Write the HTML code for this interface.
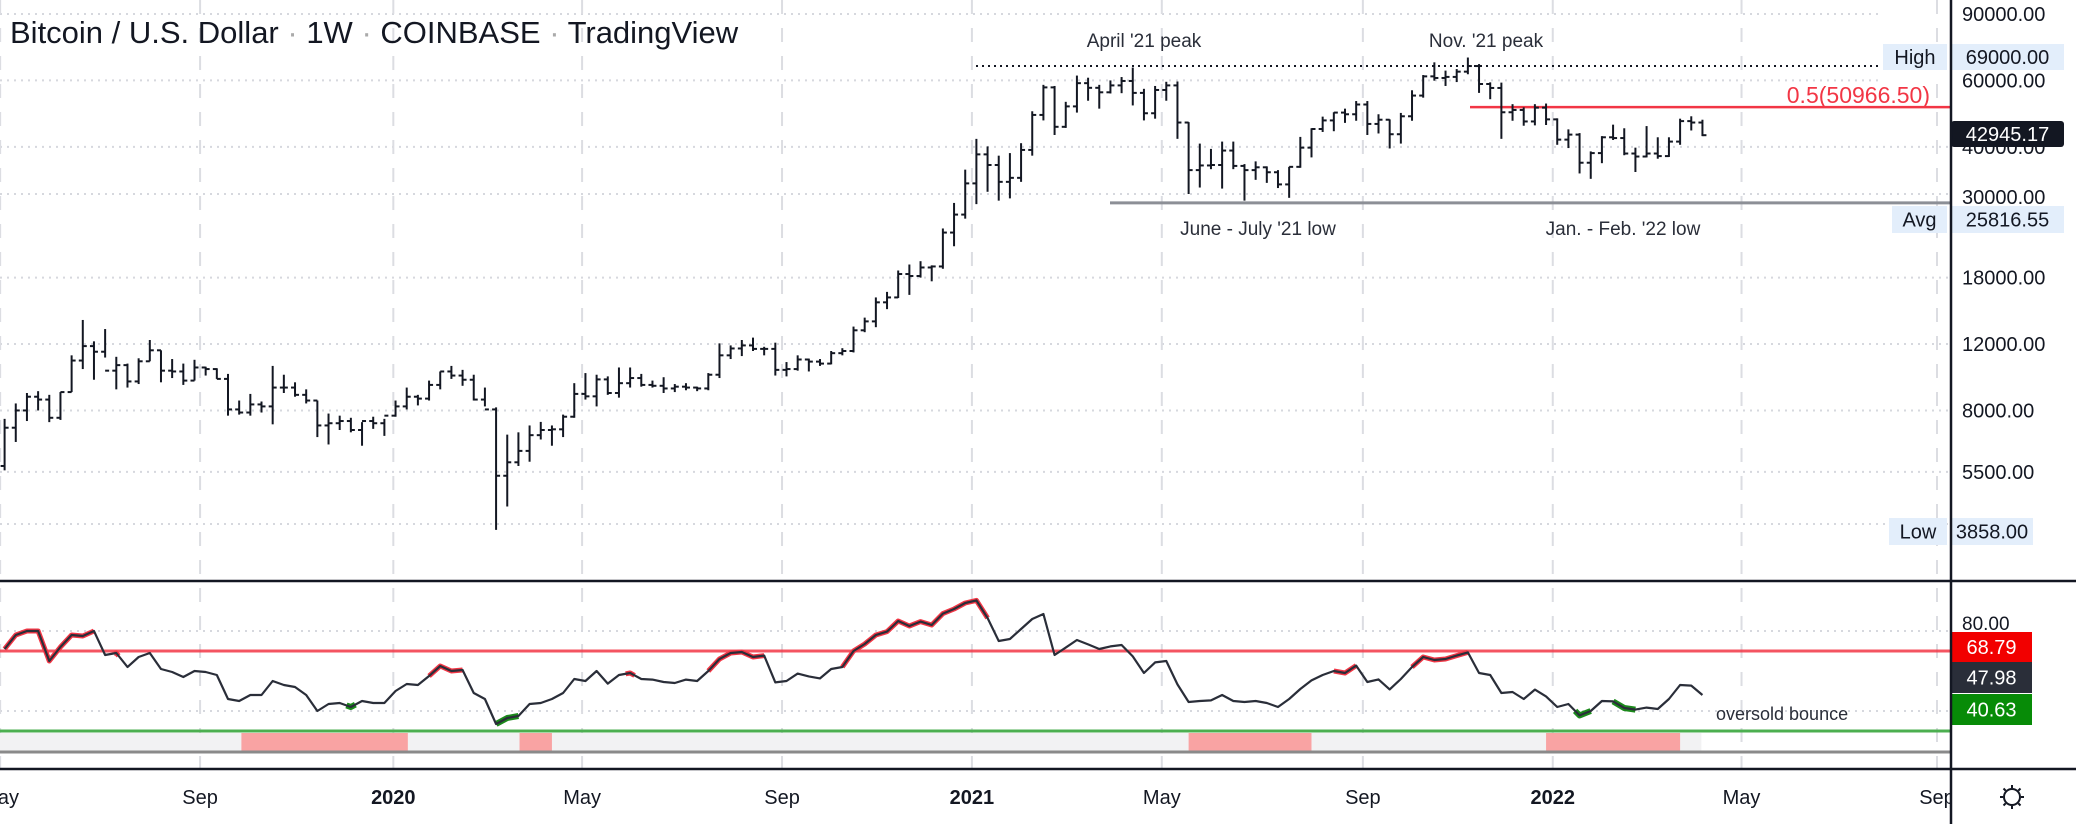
<!DOCTYPE html>
<html><head><meta charset="utf-8"><style>
html,body{margin:0;padding:0;background:#fff;}
svg{display:block;font-family:"Liberation Sans",sans-serif;}
</style></head><body>
<svg id="chart" width="2076" height="824" viewBox="0 0 2076 824" xmlns="http://www.w3.org/2000/svg">
<defs><clipPath id="pane"><rect x="0" y="0" width="1950" height="824"/></clipPath></defs>
<g id="grid" clip-path="url(#pane)"></g>
<g id="bands"></g>
<g id="annot"></g>
<g id="bars" clip-path="url(#pane)"></g>
<g id="rsi" clip-path="url(#pane)"></g>
<g id="axes"></g>
</svg>
<script>
const opens=[5700,7200,8000,8700,8550,7650,8950,10850,11850,11450,
10200,10550,9550,10800,11550,10200,10150,9600,10400,10300,
9700,8050,7900,8300,8200,9200,9200,8800,8500,7300,
7400,7500,7100,7500,7400,7750,8200,8700,8600,9350,
10150,9900,9650,8550,8050,5370,5830,6250,6880,7100,
7130,7700,8850,8720,9670,8900,9450,9750,9350,9300,
9150,9250,9200,9150,9950,11200,11680,11900,11650,11650,
10250,10300,10920,10780,10650,11350,11500,13050,13780,15480,
15950,18400,18180,19150,19270,23700,26450,32000,38200,35800,
32300,33100,39250,48600,57500,45200,51200,59000,57350,55800,
58200,59800,55600,49100,56600,58200,46400,34700,35700,35800,
39100,35600,34700,35300,34250,31800,35400,39800,44600,47000,
49300,48800,51800,46000,47200,43200,48200,54700,61500,60900,
61300,63300,65500,58700,57300,49400,50100,46700,50800,47300,
41800,43100,36300,38500,42400,42200,38400,37700,38400,37800,
41300,46800,46400];
const highs=[7600,8350,8900,9000,8800,8950,11200,13900,12200,13150,
11100,10650,11000,12300,11550,10950,10650,10900,10450,10350,
10000,8500,8850,8450,10500,9950,9500,9100,8500,7850,
7750,7650,7450,7700,7600,8500,9200,8800,9600,10150,
10500,10250,9950,9200,8150,6900,7000,7300,7460,7300,
7800,9450,10050,9950,9850,10400,10400,10000,9600,9800,
9400,9450,9250,10050,12050,11900,12300,12480,11800,12100,
10750,11200,10980,10950,11500,11700,13350,14100,15950,16500,
18800,19500,19900,19400,24300,28400,34800,42000,40100,37900,
38500,40900,49700,58400,58000,52650,61800,61000,58400,60000,
61250,64900,57000,58000,59500,59600,46500,40800,39500,41300,
41300,36000,36600,35500,34700,35400,42500,44800,48100,49400,
50500,52900,52900,48800,47300,49200,56500,62000,67000,63700,
64300,69000,66300,59300,59200,51900,50900,51900,52100,47600,
44500,43500,38900,42700,45800,44800,39800,45400,42400,42400,
47500,48200,47200];
const lows=[5550,6600,7500,8000,7450,7550,8950,10300,9650,11050,
9100,9200,9400,10800,9500,9750,9350,9600,9900,9700,
7750,7800,7750,7900,7350,8900,8700,8350,6800,6500,
7100,7000,6450,7150,6850,7700,8050,8250,8500,9100,
9700,9300,8500,8200,3858,4450,5700,5850,6700,6450,
6800,7650,8550,8200,8800,8650,9200,9250,9200,8900,
8950,9050,9000,9050,9750,10950,11150,11500,11200,9900,
9850,10200,10150,10500,10600,11200,11400,12900,13300,14850,
15900,16200,18000,17600,19000,21800,25800,28200,30400,28800,
29200,32300,37900,47000,43000,44900,49300,53000,50500,55400,
55500,51500,47000,47500,53000,42000,30000,31200,34900,31000,
34900,28800,32700,32100,31100,29300,35200,37500,43800,44000,
46300,46900,43000,43400,39600,40800,46900,54000,59900,58000,
59400,62300,55600,53500,42000,46900,45500,45600,45700,40500,
39700,34000,32900,36200,41700,38000,34300,37500,37200,37600,
40500,44200,42700];
const closes=[7200,8000,8700,8550,7650,8950,10850,11850,11450,10200,
10550,9550,10800,11550,10200,10150,9600,10400,10300,9700,
8050,7900,8300,8200,9200,9200,8800,8500,7300,7400,
7500,7100,7500,7400,7750,8200,8700,8600,9350,10150,
9900,9650,8550,8050,5370,5830,6250,6880,7100,7130,
7700,8850,8720,9670,8900,9450,9750,9350,9300,9150,
9250,9200,9150,9950,11200,11680,11900,11650,11650,10250,
10300,10920,10780,10650,11350,11500,13050,13780,15480,15950,
18400,18180,19150,19270,23700,26450,32000,38200,35800,32300,
33100,39250,48600,57500,45200,51200,59000,57350,55800,58200,
59800,55600,49100,56600,58200,46400,34700,35700,35800,39100,
35600,34700,35300,34250,31800,35400,39800,44600,47000,49300,
48800,51800,46000,47200,43200,48200,54700,61500,60900,61300,
63300,65500,58700,57300,49400,50100,46700,50800,47300,41800,
43100,36300,38500,42400,42200,38400,37700,38400,37800,41300,
46800,46400,42945];
const rsiValues=[71,78,80,80,65,72,78,77.5,80,68,
69,62,67,69,61,59.5,57,60,59.5,58,
46,45,48,48,55,53,52,48,40,43.5,
44,42,45,44,44,50,53.5,53,57.5,62.5,
60,60.5,49,46,33.5,36.5,37.5,43.5,44,46,
49,56,55,60,53.7,58,59,56,55.7,54.5,
54,55.7,55,60,66,69,69.5,67,67.7,54.3,
55,58.7,57.3,56.3,61,62,70,73.5,78,79.7,
85,82.5,84.7,83,88.7,91,94,95.3,86.5,75,
76,81,86,88.5,68,71.7,75.5,73.3,71,72.3,
73,67.3,59,64.3,65,53.3,44.5,45,45.3,48,
45,44.5,45,44,42,46,51,55.3,58,60,
59,62.7,54.5,55.8,50.8,56,62,67,65.5,66,
67.7,69.3,59,58,49,49.5,46,50.7,47.3,42,
43.5,37.8,40,45,44.8,41.5,40.7,41.7,41,46,
53,52.7,48];
const overboughtRanges=[[0,8],[9.8,10.2],[38,41],[55.6,56.4],[63,68],[75,88],[119,121],[126,131]];
const oversoldRanges=[[30.6,31.4],[44,46],[140.6,142],[144,146]];
const bandZones=[[21.2,36.1],[46.1,49],[106,117],[138,150]];
const bandEnd=151.9;
const priceTicks=[90000,60000,40000,30000,18000,12000,8000,5500,4000];
const priceTickLabels=["90000.00","60000.00","40000.00","30000.00","18000.00","12000.00","8000.00","5500.00",""];
const timeTickIdx=[-0.4,17.5,34.8,51.7,69.6,86.6,103.6,121.6,138.6,155.5,173];
const timeTickLabels=["May","Sep","2020","May","Sep","2021","May","Sep","2022","May","Sep"];
const rsiTicks=[80,40];
const highPrice=69000, lowPrice=3858, avgPrice=25816.55, lastPrice=42945.17;
const fibLevel=50966.50, highLinePrice=65500, avgLinePrice=28400;
const rsiLast=47.98, rsiUpper=68.79, rsiLower=40.63;

const NS="http://www.w3.org/2000/svg";
const xOf=i=>4.6+11.17*i;
const yP=p=>14+163.8*(Math.log(90000)-Math.log(p));
const yR=v=>651+(70-v)*2;
function mk(tag,attrs,parent,text){const e=document.createElementNS(NS,tag);for(const k in attrs)e.setAttribute(k,attrs[k]);if(text!==undefined)e.textContent=text;parent.appendChild(e);return e;}
const G=id=>document.getElementById(id);

const grid=G('grid');
priceTicks.forEach(p=>{const l=mk('line',{x1:0,x2:(p>50000?1880:1950),y1:yP(p),y2:yP(p),stroke:'#d6d8de','stroke-width':2,'stroke-dasharray':'2 5'},grid);

});
rsiTicks.forEach(v=>{const l=mk('line',{x1:0,x2:1950,y1:yR(v),y2:yR(v),stroke:'#d6d8de','stroke-width':2,'stroke-dasharray':'2 5'},grid);

});
timeTickIdx.forEach(t=>{const x=xOf(t);const l=mk('line',{x1:x,x2:x,y1:0,y2:768,stroke:'#dcdde2','stroke-width':2,'stroke-dasharray':'14 14'},grid);

});

const bands=G('bands');
let b=mk('rect',{x:0,y:733,width:xOf(bandEnd),height:19,fill:'#f2f2f3'},bands);


bandZones.forEach(z=>{const r=mk('rect',{x:xOf(z[0]),y:733,width:xOf(z[1])-xOf(z[0]),height:19,fill:'#f9a3a3'},bands);

});
b=mk('line',{x1:0,x2:1950,y1:752,y2:752,stroke:'#8a8a8a','stroke-width':3},bands);



const an=G('annot');
let e=mk('line',{x1:976,x2:1880,y1:yP(highLinePrice),y2:yP(highLinePrice),stroke:'#131722','stroke-width':2,'stroke-dasharray':'2 4'},an);


e=mk('line',{x1:1470,x2:1950,y1:yP(fibLevel),y2:yP(fibLevel),stroke:'#f23645','stroke-width':2.5},an);


e=mk('text',{x:1930,y:103,'font-size':23,fill:'#f23645','text-anchor':'end'},an,'0.5(50966.50)');


e=mk('line',{x1:1110,x2:1950,y1:yP(avgLinePrice),y2:yP(avgLinePrice),stroke:'#8c8f96','stroke-width':3},an);


[["April '21 peak",1144,47,'april-peak-label'],["Nov. '21 peak",1486,47,'nov-peak-label'],["June - July '21 low",1258,235,'june-july-low-label'],["Jan. - Feb. '22 low",1623,235,'jan-feb-low-label']].forEach(a=>{
const t=mk('text',{x:a[1],y:a[2],'font-size':19,fill:'#2a2e39','text-anchor':'middle'},an,a[0]);

});
e=mk('text',{x:1716,y:720,'font-size':18,fill:'#2a2e39'},an,'oversold bounce');



const bars=G('bars');
closes.forEach((c,i)=>{const x=xOf(i);const g=mk('g',{stroke:'#131722','stroke-width':2},bars);


mk('line',{x1:x,x2:x,y1:yP(highs[i]),y2:yP(lows[i])},g);
mk('line',{x1:x-4,x2:x,y1:yP(opens[i]),y2:yP(opens[i])},g);
mk('line',{x1:x,x2:x+4,y1:yP(c),y2:yP(c)},g);});

const rs=G('rsi');
e=mk('line',{x1:0,x2:1950,y1:yR(70),y2:yR(70),stroke:'#f23645','stroke-width':3,'stroke-opacity':0.85},rs);


e=mk('line',{x1:0,x2:1950,y1:yR(30),y2:yR(30),stroke:'#4caf50','stroke-width':3},rs);


function rsiAt(t){const a=Math.floor(t),f=t-a;if(a>=rsiValues.length-1)return rsiValues[rsiValues.length-1];return rsiValues[a]*(1-f)+rsiValues[a+1]*f;}
function rangePts(r){const pts=[[xOf(r[0]),yR(rsiAt(r[0]))]];for(let i=Math.ceil(r[0]);i<r[1];i++){if(i>r[0])pts.push([xOf(i),yR(rsiValues[i])]);}pts.push([xOf(r[1]),yR(rsiAt(r[1]))]);return pts.map(p=>p.join(',')).join(' ');}
overboughtRanges.forEach(r=>{const p=mk('polyline',{points:rangePts(r),fill:'none',stroke:'#f23645','stroke-width':5,'stroke-linejoin':'round'},rs);

});
oversoldRanges.forEach(r=>{const p=mk('polyline',{points:rangePts(r),fill:'none',stroke:'#1b8a1b','stroke-width':6,'stroke-linejoin':'round'},rs);

});
e=mk('polyline',{points:rsiValues.map((v,i)=>xOf(i)+','+yR(v)).join(' '),fill:'none',stroke:'#2a2e39','stroke-width':2.2,'stroke-linejoin':'round'},rs);



const ax=G('axes');
e=mk('rect',{x:1951,y:0,width:125,height:824,fill:'#fff'},ax);


e=mk('rect',{x:0,y:770,width:1951,height:54,fill:'#fff'},ax);


priceTicks.forEach((p,i)=>{if(!priceTickLabels[i])return;const yy=(p===30000?204:yP(p)+7);const t=mk('text',{x:1962,y:yy,'font-size':20,fill:'#131722'},ax,priceTickLabels[i]);

});
e=mk('text',{x:1962,y:yR(80)-1,'font-size':19,fill:'#131722'},ax,'80.00');


function tag(x,y,w,h,fill,txt,col,name,rx){const g=mk('g',{},ax);


mk('rect',{x:x,y:y,width:w,height:h,fill:fill,rx:rx||0},g);mk('text',{x:x+w/2,y:y+h/2+7,'font-size':20,fill:col,'text-anchor':'middle'},g,txt);}
tag(1883,44,64,26,'#e3eefb','High','#131722','high-label');
tag(1951,44,113,26,'#e3eefb',highPrice.toFixed(2),'#131722','high-value-label');
tag(1951,121,113,26,'#131722',lastPrice.toFixed(2),'#ffffff','last-price-label',3);
tag(1892,206,55,27,'#e3eefb','Avg','#131722','avg-label');
tag(1951,206,113,27,'#e3eefb',avgPrice.toFixed(2),'#131722','avg-value-label');
tag(1889,518,58,27,'#e3eefb','Low','#131722','low-label');
tag(1951,518,82,27,'#e3eefb',lowPrice.toFixed(2),'#131722','low-value-label');
tag(1951,632,81,30,'#f20000',rsiUpper.toFixed(2),'#ffffff','rsi-upper-label');
tag(1951,662,81,31,'#2a2e39',rsiLast.toFixed(2),'#ffffff','rsi-last-label');
tag(1951,694,81,31,'#078b07',rsiLower.toFixed(2),'#ffffff','rsi-lower-label');
timeTickIdx.forEach((t,i)=>{const bold=/^20/.test(timeTickLabels[i]);const tx=mk('text',{x:xOf(t),y:804,'font-size':20,'font-weight':bold?'bold':'normal',fill:'#131722','text-anchor':'middle'},ax,timeTickLabels[i]);

});
e=mk('rect',{x:1951,y:770,width:125,height:54,fill:'#fff'},ax);


[[0,581,2076,581],[0,769,2076,769],[1951,0,1951,824]].forEach(l=>{const ln=mk('line',{x1:l[0],y1:l[1],x2:l[2],y2:l[3],stroke:'#131722','stroke-width':2.5},ax);

});
const gear=mk('g',{transform:'translate(2012,797)',stroke:'#131722','stroke-width':2,fill:'none'},ax);


mk('circle',{cx:0,cy:0,r:8},gear);
for(let k=0;k<8;k++){const a=k*Math.PI/4;mk('line',{x1:9*Math.cos(a),y1:9*Math.sin(a),x2:12*Math.cos(a),y2:12*Math.sin(a)},gear);}
const title=mk('text',{x:10,y:43,'font-size':31,fill:'#131722'},ax);


title.innerHTML='Bitcoin / U.S. Dollar <tspan fill="#aaa">·</tspan> 1W <tspan fill="#aaa">·</tspan> COINBASE <tspan fill="#aaa">·</tspan> TradingView';
</script>
</body></html>
